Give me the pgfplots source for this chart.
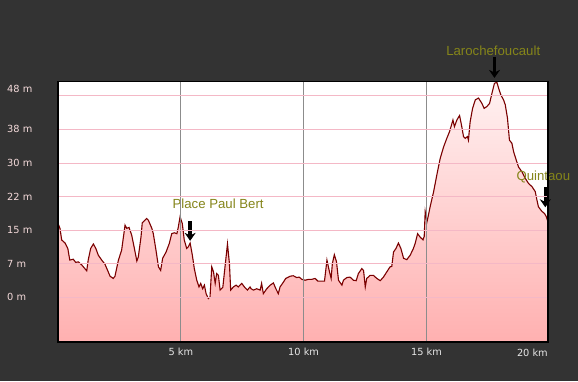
\documentclass[border=0pt]{standalone}
\usepackage{pgfplots}
\pgfplotsset{compat=1.18}
\usetikzlibrary{arrows.meta}
\usepackage{fontspec}
\setmainfont{DejaVu Sans}
\newfontfamily\annfont{Liberation Sans}
\definecolor{bgdark}{HTML}{333333}
\definecolor{gridpink}{HTML}{F4B8C6}
\definecolor{curve}{HTML}{7A0000}
\definecolor{filltop}{HTML}{FFF2F2}
\definecolor{fillbot}{HTML}{FFB0B0}
\definecolor{anncol}{HTML}{85851A}
\definecolor{ylab}{HTML}{F4DADA}
\definecolor{xlab}{HTML}{E6E6E6}
\pgfplotstableread{
km m
0.00 16.5
0.08 15.4
0.15 12.8
0.29 12.1
0.40 10.9
0.48 8.3
0.62 8.5
0.72 7.8
0.83 7.9
0.97 7.2
1.17 5.9
1.23 8.3
1.33 10.9
1.44 11.9
1.54 10.9
1.64 9.4
1.78 8.3
1.91 7.4
2.02 6.0
2.12 4.7
2.25 4.2
2.32 4.7
2.46 8.3
2.59 10.5
2.73 16.1
2.80 15.4
2.89 15.6
3.00 13.9
3.11 10.9
3.21 8.1
3.27 9.0
3.38 13.5
3.43 16.6
3.61 17.6
3.68 17.2
3.82 15.4
3.88 14.2
3.99 10.5
4.09 6.8
4.18 6.0
4.26 8.7
4.40 10.1
4.53 12.0
4.63 14.2
4.73 14.4
4.84 14.2
4.90 15.7
4.97 18.0
5.06 16.5
5.14 12.8
5.24 10.9
5.31 11.3
5.38 12.1
5.47 9.4
5.55 6.4
5.65 3.8
5.74 2.3
5.81 3.1
5.89 1.9
5.96 2.7
6.03 0.8
6.12 -0.3
6.19 0.1
6.26 6.8
6.33 5.7
6.40 3.1
6.46 5.3
6.53 4.9
6.60 1.6
6.71 2.2
6.80 6.8
6.90 11.9
6.98 7.5
7.03 1.6
7.14 2.3
7.25 2.7
7.34 2.3
7.48 3.1
7.59 2.3
7.71 1.6
7.82 2.3
7.86 1.9
7.96 1.6
8.09 1.9
8.23 1.6
8.29 3.1
8.36 0.8
8.50 1.9
8.64 2.7
8.77 3.2
8.87 1.9
8.97 0.8
9.04 2.3
9.18 3.4
9.27 4.2
9.45 4.7
9.58 4.8
9.72 4.4
9.82 4.5
9.93 4.0
10.06 3.8
10.20 4.0
10.33 4.0
10.47 4.2
10.58 3.6
10.85 3.6
10.95 8.3
11.04 6.0
11.12 4.2
11.17 7.5
11.25 9.5
11.34 7.9
11.42 3.8
11.56 2.7
11.62 3.8
11.76 4.4
11.89 4.5
12.03 3.8
12.14 3.7
12.23 5.3
12.37 6.4
12.44 6.0
12.51 2.3
12.57 4.2
12.71 4.9
12.84 4.9
12.98 4.2
13.12 3.7
13.25 4.5
13.39 5.7
13.52 6.8
13.59 6.9
13.66 10.1
13.76 10.9
13.86 12.1
13.96 10.9
14.07 8.7
14.20 8.4
14.34 9.4
14.47 10.9
14.54 12.0
14.64 14.2
14.75 13.4
14.86 12.8
14.91 13.6
14.95 19.1
15.02 16.8
15.08 18.3
15.15 20.2
15.29 23.5
15.43 27.5
15.56 31.0
15.70 33.6
15.83 35.5
15.94 37.0
16.00 38.1
16.08 39.6
16.14 38.1
16.24 39.6
16.35 40.6
16.44 38.1
16.51 35.9
16.58 35.5
16.67 35.9
16.71 35.1
16.78 39.2
16.88 42.2
16.99 44.1
17.12 44.5
17.26 43.3
17.35 42.2
17.46 42.6
17.57 43.3
17.67 45.6
17.77 47.8
17.87 48.0
17.94 46.7
18.03 45.2
18.14 44.1
18.21 43.0
18.30 40.0
18.38 35.1
18.48 34.4
18.55 32.5
18.66 30.6
18.75 29.1
18.89 28.0
19.02 26.6
19.16 25.4
19.30 24.7
19.43 23.6
19.50 21.7
19.56 20.2
19.70 19.2
19.81 18.7
19.88 18.0
19.95 16.8
}\profile
\begin{document}
\begin{tikzpicture}
\fill[bgdark] (-58pt,-39pt) rectangle (520pt,342pt);
\begin{axis}[
  at={(0,0)}, anchor=south west,
  scale only axis,
  width=490pt, height=260.5pt,
  xmin=0, xmax=19.95,
  ymin=-10, ymax=48.2,
  axis background/.style={fill=white},
  axis line style={black, line width=1.2pt},
  axis on top,
  xtick={5,10,15},
  xticklabels={5 km,10 km,15 km},
  ytick={0,7.5,15,22.5,30,37.5,45},
  yticklabels={0 m,7 m,15 m,22 m,30 m,38 m,{}},
  extra y ticks={46.5},
  extra y tick labels={48 m},
  extra y tick style={grid=none},
  major tick length=0pt,
  xmajorgrids, ymajorgrids,
  x grid style={draw=gray!90, line width=0.8pt},
  y grid style={draw=gridpink, line width=0.8pt},
  yticklabel style={anchor=west, xshift=-51pt, inner sep=0pt, font=\fontsize{9.8}{11}\selectfont, text=ylab},
  xticklabel style={inner sep=0pt, yshift=-5.5pt, font=\fontsize{9.8}{11}\selectfont, text=xlab},
  clip=false,
]
\addplot[draw=none, top color=filltop, bottom color=fillbot] table[x=km, y=m] {\profile} -- (axis cs:19.95,-10) -- (axis cs:0,-10) -- cycle;
\addplot[curve, line width=1.1pt] table[x=km, y=m] {\profile};
\node[anchor=east, inner sep=0pt, font=\fontsize{9.8}{11}\selectfont, text=xlab] at (axis cs:19.95,-12.4) {20 km};
% annotations
\node[font=\annfont\fontsize{13.2}{15}\selectfont, text=anncol] at (axis cs:6.52,20.8) {Place Paul Bert};
\draw[-{Stealth[length=8pt,width=11pt]}, line width=3.5pt, black] (axis cs:5.38,17.0) -- (axis cs:5.38,12.6);
\node[font=\annfont\fontsize{13.2}{15}\selectfont, text=anncol] at (axis cs:17.72,55.0) {Larochefoucault};
\draw[-{Stealth[length=8pt,width=11pt]}, line width=3.5pt, black] (axis cs:17.77,53.7) -- (axis cs:17.77,49.0);
\node[font=\annfont\fontsize{13.2}{15}\selectfont, text=anncol] at (axis cs:19.76,26.8) {Quintaou};
\draw[-{Stealth[length=8pt,width=11pt]}, line width=3.5pt, black] (axis cs:19.84,24.6) -- (axis cs:19.84,20.1);
\end{axis}
\pgfresetboundingbox
\path (-58pt,-39pt) rectangle (520pt,342pt);
\end{tikzpicture}
\end{document}
